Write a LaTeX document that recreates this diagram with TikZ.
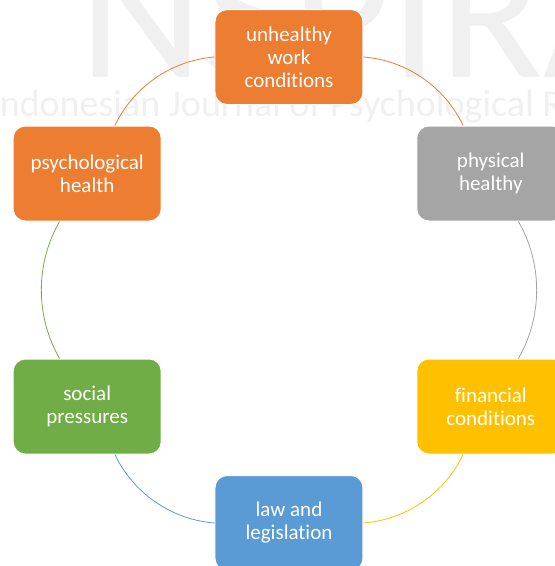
\documentclass[tikz,border=0pt]{standalone}
\usepackage{fontspec}
\setmainfont{Carlito}[Ligatures=NoCommon]
\usepackage{xcolor}
\usetikzlibrary{positioning}
\definecolor{boxorange}{HTML}{ED7D31}
\definecolor{boxgray}{HTML}{A5A5A5}
\definecolor{boxyellow}{HTML}{FFC000}
\definecolor{boxblue}{HTML}{5B9BD5}
\definecolor{boxgreen}{HTML}{70AD47}

\begin{document}
\begin{tikzpicture}[x=1pt, y=1pt,
    box/.style={draw=white, line width=1pt, rounded corners=12pt,
      minimum width=148pt, minimum height=95pt, text=white, align=center,
      font=\fontsize{21}{23}\selectfont},
    link/.style={line width=0.8pt, bend left=30, looseness=0.91}]
    \useasboundingbox (-289,-276) rectangle (266,290);
    % faint watermark behind the cycle
    \begin{scope}
      \clip (-289,-276) rectangle (266,290);
      \node [anchor=base west, inner sep=0, text=black!6, font=\fontsize{192}{192}\selectfont] (logo) at (-210,213) {NSPIRA};
      \node [anchor=base west, inner sep=0, text=black!6, font=\fontsize{38}{38}\selectfont] (journal) at (-299,174) {Indonesian Journal of Psychological Research};
    \end{scope}
    \node (work) [box, fill=boxorange] at (90:233) {unhealthy\\work\\conditions};
    \node (physical) [box, fill=boxgray] at (30:233) {physical\\healthy};
    \node (financial) [box, fill=boxyellow] at (-30:233) {financial\\conditions};
    \node (law) [box, fill=boxblue] at (-90:233) {law and\\legislation};
    \node (social) [box, fill=boxgreen] at (-150:233) {social\\pressures};
    \node (psych) [box, fill=boxorange] at (150:233) {psychological\\health};
    \draw [link, boxorange] (work) to (physical);
    \draw [link, boxgray] (physical) to (financial);
    \draw [link, boxyellow] (financial) to (law);
    \draw [link, boxblue] (law) to (social);
    \draw [link, boxgreen] (social) to (psych);
    \draw [link, boxorange] (psych) to (work);
\end{tikzpicture}
\end{document}
